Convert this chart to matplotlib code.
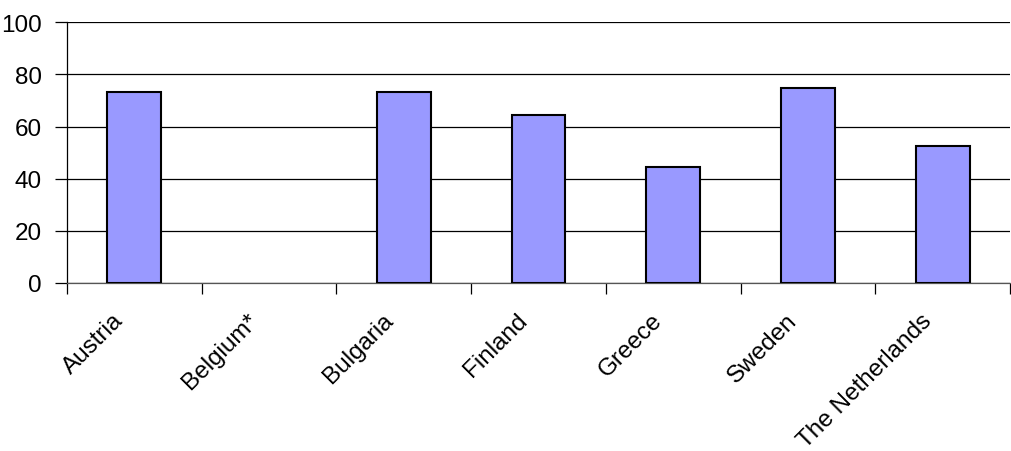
import numpy as np
import matplotlib
matplotlib.use("Agg")
import matplotlib.pyplot as plt
import matplotlib.transforms as mtransforms
from matplotlib.ticker import FixedLocator

plt.rcParams['font.family'] = ['Liberation Sans', 'DejaVu Sans']

countries = ["Austria", "Belgium*", "Bulgaria", "Finland", "Greece", "Sweden", "The Netherlands"]
values = [73.4, np.nan, 73.4, 64.4, 44.5, 74.9, 52.7]
y_ticks = [0, 20, 40, 60, 80, 100]

fig = plt.figure(figsize=(10.11, 4.52), dpi=100)
ax = fig.add_axes([67 / 1011, 1 - 284 / 452, (1010 - 67) / 1011, (284 - 23.3) / 452])

x = np.arange(len(countries))
vals = np.array(values, dtype=float)
has = ~np.isnan(vals)
ax.bar(x[has], vals[has], width=0.40, color="#9999FF", edgecolor="black",
       linewidth=1.5, zorder=3)

ax.set_xlim(-0.5, len(countries) - 0.5)
ax.set_ylim(0, 100)
ax.set_yticks(y_ticks)
ax.yaxis.grid(True, color="black", linewidth=0.9, zorder=0)
ax.set_axisbelow(True)

# category boundaries carry the tick marks; names are placed as rotated text
ax.set_xticks([])
ax.xaxis.set_minor_locator(FixedLocator(np.arange(-0.5, len(countries), 1.0)))
ax.tick_params(axis="x", which="minor", length=8, width=0.9, color="black")
ax.tick_params(axis="y", length=9, width=0.9, labelsize=17.5, pad=9)

offset = mtransforms.ScaledTranslation(-22 / 100, -26 / 100, fig.dpi_scale_trans)
for xi, name in zip(x, countries):
    ax.text(xi, 0, name, transform=ax.get_xaxis_transform() + offset,
            rotation=45, ha="right", va="top", rotation_mode="anchor",
            fontsize=17.5, clip_on=False)

for s in ["top", "right"]:
    ax.spines[s].set_visible(False)
ax.spines["left"].set_linewidth(0.9)
ax.spines["bottom"].set_linewidth(0.9)
ax.spines["bottom"].set_color("#555555")

fig.savefig("out.png", dpi=100)
